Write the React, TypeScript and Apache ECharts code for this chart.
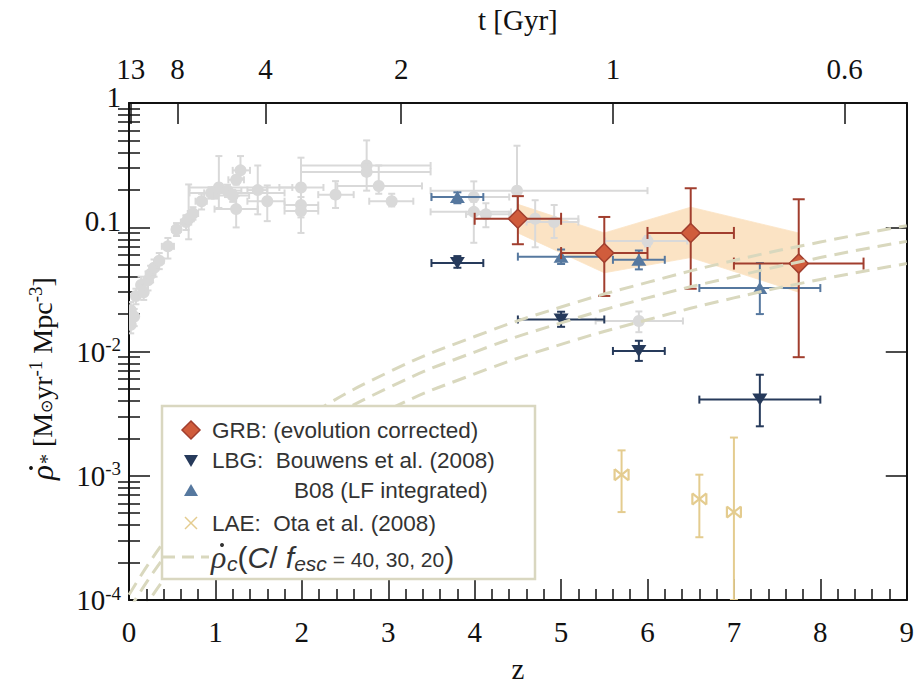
import React, { useEffect, useRef } from "react";
import * as echarts from "echarts";

// ---------------- data ----------------
const grbZ = [4.5, 5.5, 6.5, 7.75];
const grbRate = [0.117, 0.062, 0.09, 0.051];
const grbZLo = [4.0, 5.0, 6.0, 7.0];
const grbZHi = [5.0, 6.0, 7.0, 8.5];
const grbRateLo = [0.073, 0.028, 0.032, 0.009];
const grbRateHi = [0.178, 0.121, 0.206, 0.168];

const bandZ = [4.5, 5.5, 6.5, 7.75];
const bandUpper = [0.153, 0.09, 0.145, 0.09];
const bandLower = [0.09, 0.043, 0.057, 0.03];

const lbgZ = [3.8, 5.0, 5.9, 7.3];
const lbgRate = [0.0515, 0.0181, 0.0101, 0.0041];
const lbgZLo = [3.5, 4.5, 5.6, 6.6];
const lbgZHi = [4.1, 5.5, 6.2, 8.0];
const lbgRateLo = [0.0472, 0.0158, 0.0084, 0.0025];
const lbgRateHi = [0.0586, 0.0209, 0.0122, 0.0065];

const b08Z = [3.8, 5.0, 5.9, 7.3];
const b08Rate = [0.175, 0.058, 0.0547, 0.0324];
const b08ZLo = [3.5, 4.5, 5.6, 6.6];
const b08ZHi = [4.1, 5.5, 6.2, 8.0];
const b08RateLo = [0.156, 0.0506, 0.0458, 0.02];
const b08RateHi = [0.191, 0.0662, 0.065, 0.0515];

const laeZ = [5.7, 6.6, 7.0];
const laeRate = [0.00102, 0.00065, 0.00051];
const laeRateLo = [0.00051, 0.00032, 0.0001];
const laeRateHi = [0.0016, 0.00102, 0.00203];

const grayZ = [0.02, 0.02, 0.06, 0.08, 0.14, 0.17, 0.22, 0.25, 0.29, 0.35, 0.45, 0.55, 0.66, 0.69, 0.74, 0.84, 0.95, 0.99, 1.04, 1.14, 1.2, 1.24, 1.24, 1.29, 1.49, 1.6, 1.99, 1.99, 1.99, 2.39, 2.75, 2.75, 2.89, 3.04, 3.99, 3.99, 4.13, 4.49, 4.7, 4.92, 6.0, 5.9];
const grayRate = [0.0164, 0.0215, 0.0191, 0.028, 0.0343, 0.03, 0.0374, 0.042, 0.0472, 0.0537, 0.0702, 0.096, 0.11, 0.117, 0.129, 0.162, 0.189, 0.189, 0.209, 0.197, 0.18, 0.14, 0.241, 0.287, 0.199, 0.162, 0.209, 0.151, 0.135, 0.183, 0.314, 0.279, 0.215, 0.162, 0.175, 0.133, 0.127, 0.197, 0.117, 0.11, 0.0775, 0.0176];
const grayZLo = [0.0, 0.0, 0.03, 0.05, 0.1, 0.13, 0.18, 0.2, 0.25, 0.3, 0.38, 0.5, 0.6, 0.63, 0.68, 0.77, 0.87, 0.7, 0.7, 1.0, 0.97, 0.99, 1.15, 1.2, 1.37, 1.37, 1.74, 1.8, 1.8, 2.19, 1.99, 1.99, 2.41, 2.78, 3.5, 3.49, 3.9, 3.49, 4.5, 4.6, 5.51, 5.4];
const grayZHi = [0.05, 0.05, 0.09, 0.11, 0.18, 0.21, 0.26, 0.3, 0.34, 0.4, 0.52, 0.6, 0.72, 0.75, 0.8, 0.9, 1.03, 1.8, 1.89, 1.3, 1.39, 1.49, 1.33, 1.4, 1.6, 1.8, 2.25, 2.19, 2.19, 2.6, 3.49, 3.49, 3.39, 3.29, 4.4, 4.42, 4.4, 6.0, 5.2, 5.2, 6.46, 6.41];
const grayRateLo = [0.014, 0.018, 0.016, 0.024, 0.029, 0.026, 0.031, 0.036, 0.04, 0.046, 0.056, 0.085, 0.095, 0.08, 0.115, 0.139, 0.17, 0.17, 0.143, 0.175, 0.16, 0.0997, 0.22, 0.248, 0.127, 0.112, 0.09, 0.13, 0.12, 0.143, 0.27, 0.197, 0.186, 0.147, 0.16, 0.075, 0.1, 0.12, 0.069, 0.082, 0.07, 0.0143];
const grayRateHi = [0.019, 0.025, 0.022, 0.032, 0.04, 0.035, 0.044, 0.049, 0.055, 0.062, 0.082, 0.108, 0.125, 0.221, 0.145, 0.186, 0.21, 0.21, 0.374, 0.22, 0.2, 0.178, 0.26, 0.374, 0.314, 0.217, 0.363, 0.175, 0.155, 0.235, 0.5, 0.33, 0.314, 0.186, 0.234, 0.175, 0.156, 0.453, 0.165, 0.151, 0.085, 0.021];

// critical SFR curves, C/f_esc = 40, 30, 20
const critZ = [0, 0.5, 1, 1.5, 2, 3, 4, 5, 6, 7, 8, 9];
const crit40 = [1.1e-4, 3.6e-4, 8.6e-4, 1.68e-3, 2.85e-3, 6.8e-3, 1.32e-2, 2.28e-2, 3.6e-2, 5.4e-2, 7.6e-2, 1.03e-1];
const crit30 = [8.3e-5, 2.7e-4, 6.5e-4, 1.26e-3, 2.15e-3, 5.1e-3, 9.9e-3, 1.7e-2, 2.7e-2, 4.0e-2, 5.7e-2, 7.7e-2];
const crit20 = [5.5e-5, 1.8e-4, 4.3e-4, 8.4e-4, 1.43e-3, 3.4e-3, 6.6e-3, 1.14e-2, 1.8e-2, 2.7e-2, 3.8e-2, 5.1e-2];

// top axis: cosmic time
const topTickZ = [0.02, 0.56, 1.58, 3.15, 5.6, 8.28];
const topTickLabels = ["13", "8", "4", "2", "1", "0.6"];

const yMajorTicks = [1e-4, 1e-3, 1e-2, 1e-1, 1];

// ---------------- helpers ----------------
const SERIF = "Liberation Serif";
const SANS = "Liberation Sans";

const C_RED = "#d05c3c";
const C_RED_EDGE = "#a13e2e";
const C_NAVY = "#263a5b";
const C_BLUE = "#56789f";
const C_GRAY = "#d9d9d9";
const C_LAE = "#e4cc8f";
const C_BAND = "#fbe3c4";
const C_DASH = "#d9d8be";

function rows(...cols: number[][]) {
  return cols[0].map((_, i) => cols.map((c) => c[i]));
}

function makeRender(kind: string, color: string, fill: string, cap: number, lw: number, size: number) {
  return (params: any, api: any) => {
    const z = api.value(0), v = api.value(1), zl = api.value(2), zh = api.value(3), vl = api.value(4), vh = api.value(5);
    const c = api.coord([z, v]);
    const children: any[] = [];
    const st = { stroke: color, lineWidth: lw };
    if (zh > zl) {
      const l = api.coord([zl, v]);
      const r = api.coord([zh, v]);
      children.push({ type: "line", shape: { x1: l[0], y1: l[1], x2: r[0], y2: r[1] }, style: st });
      children.push({ type: "line", shape: { x1: l[0], y1: l[1] - cap, x2: l[0], y2: l[1] + cap }, style: st });
      children.push({ type: "line", shape: { x1: r[0], y1: r[1] - cap, x2: r[0], y2: r[1] + cap }, style: st });
    }
    if (vh > vl) {
      const t = api.coord([z, vh]);
      const b = api.coord([z, vl]);
      children.push({ type: "line", shape: { x1: t[0], y1: t[1], x2: b[0], y2: b[1] }, style: st });
      children.push({ type: "line", shape: { x1: t[0] - cap, y1: t[1], x2: t[0] + cap, y2: t[1] }, style: st });
      children.push({ type: "line", shape: { x1: b[0] - cap, y1: b[1], x2: b[0] + cap, y2: b[1] }, style: st });
    }
    const [cx, cy] = c;
    const s = size;
    if (kind === "circle") {
      children.push({ type: "circle", shape: { cx, cy, r: s }, style: { fill } });
    } else if (kind === "diamond") {
      children.push({ type: "polygon", shape: { points: [[cx, cy - s], [cx + s, cy], [cx, cy + s], [cx - s, cy]] }, style: { fill, stroke: color, lineWidth: 1.5 } });
    } else if (kind === "down") {
      children.push({ type: "polygon", shape: { points: [[cx - s, cy - s * 0.8], [cx + s, cy - s * 0.8], [cx, cy + s * 0.8]] }, style: { fill } });
    } else if (kind === "up") {
      children.push({ type: "polygon", shape: { points: [[cx - s, cy + s * 0.8], [cx + s, cy + s * 0.8], [cx, cy - s * 0.8]] }, style: { fill } });
    } else if (kind === "bowtie") {
      const w = s, h = s * 0.8;
      const ms = { stroke: color, lineWidth: 2.2 };
      children.push({ type: "line", shape: { x1: cx - w, y1: cy - h, x2: cx + w, y2: cy + h }, style: ms });
      children.push({ type: "line", shape: { x1: cx - w, y1: cy + h, x2: cx + w, y2: cy - h }, style: ms });
      children.push({ type: "line", shape: { x1: cx - w, y1: cy - h, x2: cx - w, y2: cy + h }, style: ms });
      children.push({ type: "line", shape: { x1: cx + w, y1: cy - h, x2: cx + w, y2: cy + h }, style: ms });
    }
    return { type: "group", children };
  };
}

function errSeries(name: string, data: number[][], render: any) {
  return {
    name,
    type: "custom",
    xAxisIndex: 0,
    yAxisIndex: 0,
    clip: true,
    data,
    encode: { x: [0, 2, 3], y: [1, 4, 5] },
    renderItem: render,
  };
}

const yMinor: number[] = [];
for (let e = -4; e < 0; e++) {
  for (let k = 2; k <= 9; k++) yMinor.push(k * Math.pow(10, e));
}

function buildOption() {
  const bandSegs = bandZ.slice(0, -1).map((z, i) => [z, bandUpper[i], bandLower[i], bandZ[i + 1], bandUpper[i + 1], bandLower[i + 1]]);

  const yBase = {
    type: "log",
    logBase: 10,
    min: 1e-4,
    max: 1,
    splitLine: { show: false },
    axisLine: { show: true, onZero: false, lineStyle: { color: "#111", width: 2 } },
  };

  const dashed = (data: number[], nm: string) => ({
    name: nm,
    type: "line",
    xAxisIndex: 0,
    yAxisIndex: 0,
    data: critZ.map((z, i) => [z, data[i]]),
    smooth: true,
    symbol: "none",
    clip: true,
    silent: true,
    lineStyle: { color: C_DASH, width: 3, type: [14, 8] },
  });

  const Z = 100;
  const lg = (o: any) => ({ ...o, z: Z });

  return {
    animation: false,
    backgroundColor: "#fff",
    grid: { left: 129, right: 9, top: 91, bottom: 70, containLabel: false },
    xAxis: [
      {
        type: "value",
        position: "bottom",
        min: 0,
        max: 9,
        interval: 1,
        name: "z",
        nameLocation: "middle",
        nameGap: 54,
        nameTextStyle: { fontFamily: SERIF, fontSize: 29, color: "#111" },
        axisLine: { show: true, onZero: false, lineStyle: { color: "#111", width: 2 } },
        axisTick: { show: true, inside: true, length: 21, lineStyle: { color: "#111", width: 1.5 } },
        minorTick: { show: true, splitNumber: 5, length: 11, lineStyle: { color: "#111", width: 1.5 } },
        axisLabel: { fontFamily: SERIF, fontSize: 29, color: "#111", margin: 17 },
        splitLine: { show: false },
      },
      {
        type: "value",
        position: "top",
        min: 0,
        max: 9,
        name: "t [Gyr]",
        nameLocation: "middle",
        nameGap: 69,
        nameTextStyle: { fontFamily: SERIF, fontSize: 29, color: "#111" },
        axisLine: { show: true, onZero: false, lineStyle: { color: "#111", width: 2 } },
        axisTick: { show: true, inside: true, length: 21, customValues: topTickZ, lineStyle: { color: "#111", width: 1.5 } },
        axisLabel: {
          show: true,
          customValues: topTickZ,
          fontFamily: SERIF,
          fontSize: 29,
          color: "#111",
          margin: 20,
          formatter: (v: number) => {
            const i = topTickZ.findIndex((t) => Math.abs(t - v) < 1e-6);
            return i >= 0 ? topTickLabels[i] : "";
          },
        },
        splitLine: { show: false },
      },
    ],
    yAxis: [
      {
        ...yBase,
        position: "left",
        axisTick: { show: true, inside: true, length: 21, customValues: yMajorTicks, lineStyle: { color: "#111", width: 1.5 } },
        axisLabel: {
          show: true,
          customValues: yMajorTicks,
          fontFamily: SERIF,
          fontSize: 29,
          color: "#111",
          margin: 8,
          formatter: (v: number) => {
            if (Math.abs(v - 1) < 1e-9) return "{pl|1}";
            if (Math.abs(v - 0.1) < 1e-9) return "{pl|0.1}";
            const e = Math.round(Math.log10(v));
            return "10{sup|" + e + "}";
          },
          rich: {
            sup: { fontFamily: SERIF, fontSize: 19, color: "#111", padding: [0, 0, 14, 0] },
            pl: { fontFamily: SERIF, fontSize: 29, color: "#111", padding: [0, 0, 13, 0] },
          },
        },
      },
      {
        ...yBase,
        position: "left",
        axisLine: { show: false },
        axisTick: { show: true, inside: true, length: 11, customValues: yMinor, lineStyle: { color: "#111", width: 1.5 } },
        axisLabel: { show: false },
      },
      {
        ...yBase,
        position: "right",
        axisTick: { show: true, inside: true, length: 21, customValues: yMajorTicks, lineStyle: { color: "#111", width: 1.5 } },
        axisLabel: { show: false },
      },
      {
        ...yBase,
        position: "right",
        axisLine: { show: false },
        axisTick: { show: true, inside: true, length: 11, customValues: yMinor, lineStyle: { color: "#111", width: 1.5 } },
        axisLabel: { show: false },
      },
    ],
    series: [
      {
        name: "band",
        type: "custom",
        xAxisIndex: 0,
        yAxisIndex: 0,
        clip: true,
        data: bandSegs,
        renderItem: (params: any, api: any) => {
          const a = api.coord([api.value(0), api.value(1)]);
          const b = api.coord([api.value(3), api.value(4)]);
          const c = api.coord([api.value(3), api.value(5)]);
          const d = api.coord([api.value(0), api.value(2)]);
          return { type: "polygon", shape: { points: [a, b, c, d] }, style: { fill: C_BAND, stroke: C_BAND, lineWidth: 0.8 } };
        },
      },
      dashed(crit40, "c40"),
      dashed(crit30, "c30"),
      dashed(crit20, "c20"),
      errSeries("gray", rows(grayZ, grayRate, grayZLo, grayZHi, grayRateLo, grayRateHi), makeRender("circle", C_GRAY, C_GRAY, 3.5, 2, 6)),
      errSeries("LAE", rows(laeZ, laeRate, laeZ, laeZ, laeRateLo, laeRateHi), makeRender("bowtie", C_LAE, C_LAE, 4, 2, 7)),
      errSeries("B08", rows(b08Z, b08Rate, b08ZLo, b08ZHi, b08RateLo, b08RateHi), makeRender("up", C_BLUE, C_BLUE, 4, 2, 7.5)),
      errSeries("LBG", rows(lbgZ, lbgRate, lbgZLo, lbgZHi, lbgRateLo, lbgRateHi), makeRender("down", C_NAVY, C_NAVY, 4, 2, 7.5)),
      errSeries("GRB", rows(grbZ, grbRate, grbZLo, grbZHi, grbRateLo, grbRateHi), makeRender("diamond", C_RED_EDGE, C_RED, 6, 2, 9.5)),
    ],
    graphic: [
      // y-axis title, rotated to read bottom-to-top
      {
        type: "group",
        x: 42,
        y: 356,
        rotation: Math.PI / 2,
        z: Z,
        children: [
          { type: "text", x: -124, y: 0, style: { text: "ρ", font: `italic 31px ${SERIF}`, fill: "#111", verticalAlign: "middle", textAlign: "left" } },
          { type: "circle", shape: { cx: -112, cy: -11, r: 1.9 }, style: { fill: "#111" } },
          {
            type: "text",
            x: -108,
            y: 0,
            style: {
              text: "{s|*} [M{o|⊙}yr{p|-1} Mpc{p|-3}]",
              font: `28px ${SERIF}`,
              fill: "#111",
              verticalAlign: "middle",
              textAlign: "left",
              rich: {
                s: { fontFamily: SERIF, fontSize: 20, fill: "#111", padding: [10, 0, 0, 0] },
                o: { fontFamily: SANS, fontSize: 16, fill: "#111", padding: [8, 0, 0, 0] },
                p: { fontFamily: SERIF, fontSize: 19, fill: "#111", padding: [0, 0, 14, 0] },
              },
            },
          },
        ],
      },
      lg({ type: "rect", shape: { x: 162, y: 406, width: 373, height: 173 }, style: { fill: "#fff", stroke: "#d9d7c0", lineWidth: 2.5 } }),
      lg({ type: "polygon", shape: { points: [[191, 421], [200, 430], [191, 439], [182, 430]] }, style: { fill: C_RED, stroke: C_RED_EDGE, lineWidth: 1.5 } }),
      lg({ type: "polygon", shape: { points: [[184, 455], [198, 455], [191, 467]] }, style: { fill: C_NAVY } }),
      lg({ type: "polygon", shape: { points: [[184, 496], [198, 496], [191, 484]] }, style: { fill: C_BLUE } }),
      lg({ type: "line", shape: { x1: 185, y1: 517, x2: 197, y2: 529 }, style: { stroke: C_LAE, lineWidth: 1.5 } }),
      lg({ type: "line", shape: { x1: 185, y1: 529, x2: 197, y2: 517 }, style: { stroke: C_LAE, lineWidth: 1.5 } }),
      lg({ type: "line", shape: { x1: 163, y1: 557, x2: 209, y2: 557 }, style: { stroke: C_DASH, lineWidth: 3, lineDash: [12, 7] } }),
      lg({ type: "text", x: 212, y: 430, style: { text: "GRB: (evolution corrected)", font: `22.5px ${SANS}`, fill: "#333", verticalAlign: "middle" } }),
      lg({ type: "text", x: 212, y: 460, style: { text: "LBG:  Bouwens et al. (2008)", font: `22.5px ${SANS}`, fill: "#333", verticalAlign: "middle" } }),
      lg({ type: "text", x: 294, y: 490, style: { text: "B08 (LF integrated)", font: `22.5px ${SANS}`, fill: "#333", verticalAlign: "middle" } }),
      lg({ type: "text", x: 212, y: 523, style: { text: "LAE:  Ota et al. (2008)", font: `22.5px ${SANS}`, fill: "#333", verticalAlign: "middle" } }),
      lg({ type: "text", x: 211, y: 557, style: { text: "ρ", font: `italic 32px ${SERIF}`, fill: "#333", verticalAlign: "middle" } }),
      lg({ type: "circle", shape: { cx: 222, cy: 545, r: 2 }, style: { fill: "#333" } }),
      lg({
        type: "text",
        x: 227,
        y: 557,
        style: {
          text: "{sub|c}{b|(}{bi|C}{b|/ }{bi|f}{sub|esc}{n| = 40, 30, 20}{b|)}",
          fill: "#333",
          verticalAlign: "middle",
          rich: {
            sub: { fontFamily: SANS, fontStyle: "italic", fontSize: 21, fill: "#333", padding: [13, 0, 0, 0] },
            b: { fontFamily: SANS, fontSize: 30, fill: "#333" },
            bi: { fontFamily: SANS, fontStyle: "italic", fontSize: 30, fill: "#333" },
            n: { fontFamily: SANS, fontSize: 21, fill: "#333", padding: [5, 0, 0, 0] },
          },
        },
      }),
    ],
  };
}

export default function App() {
  const ref = useRef<HTMLDivElement>(null);
  useEffect(() => {
    if (!ref.current) return;
    const chart = echarts.init(ref.current, null, { renderer: "svg" });
    chart.setOption(buildOption() as any);
    return () => chart.dispose();
  }, []);
  return <div ref={ref} style={{ position: "fixed", left: 0, top: 0, width: 917, height: 688, background: "#fff" }} />;
}
